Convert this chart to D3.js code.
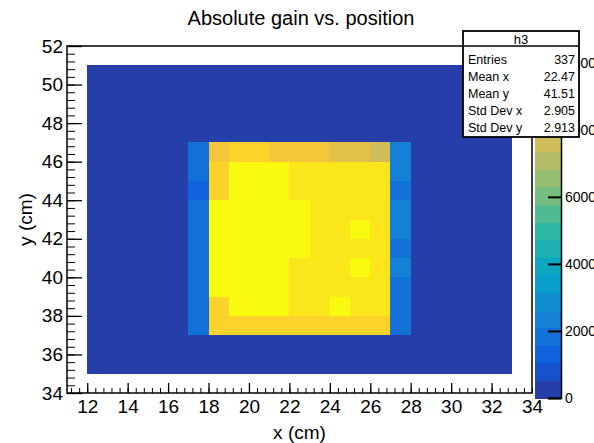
<!DOCTYPE html>
<html>
  <head>
    <meta charset="utf-8" />
    <title>Absolute gain vs. position</title>
    <script src="https://cdn.jsdelivr.net/npm/d3@7"></script>
    <style>
      html, body {
        margin: 0;
        padding: 0;
        background: white;
      }
      svg text {
        font-family: "Liberation Sans", Arial, Helvetica, sans-serif;
      }
      .axis path { stroke: black; }
      .axis line { stroke: black; }
      .cells rect { shape-rendering: crispEdges; }
    </style>
  </head>
  <body>
    <script>
      var W = 594, H = 443;

      // histogram h3 : bins of 1 cm
      var xRange = [12, 33];
      var yRange = [35, 51];
      var background = 300;

      // bins of the lit square, low edges
      var spotX = [17, 18, 19, 20, 21, 22, 23, 24, 25, 26, 27];
      var spotY = [46, 45, 44, 43, 42, 41, 40, 39, 38, 37];
      var spotZ = [
        [1850, 8900, 9200, 9200, 8800, 8800, 8800, 8100, 8100, 7600, 2350],
        [1850, 9300, 10200, 10200, 10200, 9700, 9700, 9700, 9700, 9700, 2350],
        [1300, 9300, 10200, 10500, 10200, 9700, 9700, 9700, 9700, 9700, 1850],
        [1850, 10200, 10200, 10200, 10200, 10200, 9700, 9700, 9700, 9700, 2350],
        [1850, 10200, 10200, 10200, 10200, 10200, 9700, 9700, 10200, 9700, 2350],
        [1850, 10200, 10200, 10200, 10200, 10200, 9700, 9700, 9700, 9700, 1850],
        [1850, 10200, 10200, 10200, 10200, 9700, 9700, 9700, 10200, 9700, 2350],
        [1850, 10200, 10200, 10200, 10200, 9700, 9700, 9700, 9700, 9700, 1850],
        [1850, 9300, 10200, 10200, 10200, 9700, 9700, 10200, 9700, 9700, 1850],
        [1850, 9200, 9200, 9200, 9200, 9200, 9200, 9200, 9200, 9200, 1850]
      ];

      var xTicks = [12, 14, 16, 18, 20, 22, 24, 26, 28, 30, 32, 34];
      var yTicks = [34, 36, 38, 40, 42, 44, 46, 48, 50, 52];
      var zTicks = [0, 2000, 4000, 6000, 8000, 10000];
      var statNames = ["Entries", "Mean x", "Mean y", "Std Dev x", "Std Dev y"];
      var statValues = ["337", "22.47", "41.51", "2.905", "2.913"];

      // kBird palette
      var birdStops = [0, 0.125, 0.25, 0.375, 0.5, 0.625, 0.75, 0.875, 1];
      var birdR = [0.2082, 0.0592, 0.0780, 0.0232, 0.1802, 0.5301, 0.8186, 0.9956, 0.9764];
      var birdG = [0.1664, 0.3599, 0.5041, 0.6419, 0.7178, 0.7492, 0.7328, 0.7862, 0.9832];
      var birdB = [0.5293, 0.8684, 0.8385, 0.7914, 0.6425, 0.4662, 0.3499, 0.1968, 0.0539];
      var bird = d3.scaleLinear()
        .domain(birdStops)
        .range(birdStops.map(function (s, i) {
          return d3.rgb(birdR[i] * 255, birdG[i] * 255, birdB[i] * 255);
        }))
        .interpolate(d3.interpolateRgb);

      var nLevels = 20;

      // build the bin table
      var cells = [];
      for (var bx = xRange[0]; bx < xRange[1]; bx++) {
        for (var by = yRange[0]; by < yRange[1]; by++) {
          cells.push({x: bx, y: by, z: background});
        }
      }
      spotY.forEach(function (yy, r) {
        spotX.forEach(function (xx, c) {
          var cell = cells.find(function (d) { return d.x === xx && d.y === yy; });
          cell.z = spotZ[r][c];
        });
      });
      var zMax = d3.max(cells, function (d) { return d.z; });

      function levelColor(l) {
        return bird(Math.min(1, (l + 0.99) / nLevels));
      }
      function zColor(z) {
        var l = Math.min(nLevels - 1, Math.floor(z / zMax * nLevels));
        return levelColor(l);
      }

      var frame = {left: 67, right: 532, top: 46, bottom: 393};

      var x = d3.scaleLinear().domain([11, 34]).range([frame.left, frame.right]);
      var y = d3.scaleLinear().domain([34, 52]).range([frame.bottom, frame.top]);
      var z = d3.scaleLinear().domain([0, zMax]).range([398, frame.top]);

      var svg = d3.select("body")
        .append("svg")
        .attr("width", W)
        .attr("height", H);

      svg.append("g")
        .attr("class", "cells")
        .selectAll("rect")
        .data(cells)
        .enter()
        .append("rect")
        .attr("x", function (d) { return Math.round(x(d.x)); })
        .attr("y", function (d) { return Math.round(y(d.y + 1)); })
        .attr("width", function (d) { return Math.round(x(d.x + 1)) - Math.round(x(d.x)); })
        .attr("height", function (d) { return Math.round(y(d.y)) - Math.round(y(d.y + 1)); })
        .attr("fill", function (d) { return zColor(d.z); });

      // frame
      svg.append("rect")
        .attr("x", frame.left)
        .attr("y", frame.top)
        .attr("width", frame.right - frame.left)
        .attr("height", frame.bottom - frame.top)
        .attr("fill", "none")
        .attr("stroke", "black")
        .attr("stroke-width", 1.5);

      // x axis
      var xMinor = d3.range(11.2, 34.01, 0.4);
      svg.append("g")
        .attr("class", "axis")
        .attr("transform", "translate(0," + frame.bottom + ")")
        .call(d3.axisBottom(x).tickValues(xMinor).tickSize(-5).tickFormat(""))
        .select(".domain").remove();
      var xAxis = svg.append("g")
        .attr("class", "axis")
        .attr("transform", "translate(0," + frame.bottom + ")")
        .call(d3.axisBottom(x).tickValues(xTicks).tickSize(-10).tickPadding(7)
          .tickFormat(d3.format("d")));
      xAxis.select(".domain").remove();
      xAxis.selectAll("line").attr("stroke-width", 1.3);
      xAxis.selectAll("text").attr("font-size", 19).attr("fill", "black");
      xAxis.selectAll(".tick").filter(function (d) { return d === 34; }).select("line").remove();

      // y axis
      var yMinor = d3.range(34.4, 52.01, 0.4);
      svg.append("g")
        .attr("class", "axis")
        .attr("transform", "translate(" + frame.left + ",0)")
        .call(d3.axisLeft(y).tickValues(yMinor).tickSize(-8).tickFormat(""))
        .select(".domain").remove();
      var yAxis = svg.append("g")
        .attr("class", "axis")
        .attr("transform", "translate(" + frame.left + ",0)")
        .call(d3.axisLeft(y).tickValues(yTicks).tickSize(-15).tickPadding(4)
          .tickFormat(d3.format("d")));
      yAxis.select(".domain").remove();
      yAxis.selectAll("line").attr("stroke-width", 1.3);
      yAxis.selectAll("text").attr("font-size", 19).attr("fill", "black");

      // palette
      var pal = {left: 535, right: 561};
      var bands = d3.range(nLevels);
      svg.append("g")
        .attr("class", "cells")
        .selectAll("rect")
        .data(bands)
        .enter()
        .append("rect")
        .attr("x", pal.left)
        .attr("y", function (l) { return z(zMax * (l + 1) / nLevels); })
        .attr("width", pal.right - pal.left)
        .attr("height", function (l) { return z(zMax * l / nLevels) - z(zMax * (l + 1) / nLevels) + 0.5; })
        .attr("fill", levelColor);

      var zAxis = svg.append("g")
        .attr("class", "axis")
        .attr("transform", "translate(" + pal.right + ",0)")
        .call(d3.axisRight(z).tickValues(zTicks).tickSize(-13).tickPadding(4)
          .tickFormat(d3.format("d")));
      zAxis.select(".domain").attr("stroke-width", 1.5);
      zAxis.selectAll("line").attr("stroke-width", 2);
      zAxis.selectAll("text").attr("font-size", 14).attr("fill", "black");

      // titles
      svg.append("text")
        .attr("x", 301)
        .attr("y", 25)
        .attr("text-anchor", "middle")
        .attr("font-size", 20)
        .text("Absolute gain vs. position");

      svg.append("text")
        .attr("x", (frame.left + frame.right) / 2)
        .attr("y", 439)
        .attr("text-anchor", "middle")
        .attr("font-size", 19)
        .text("x (cm)");

      svg.append("text")
        .attr("transform", "translate(32," + (frame.top + frame.bottom) / 2 + ") rotate(-90)")
        .attr("text-anchor", "middle")
        .attr("font-size", 19)
        .text("y (cm)");

      // stats box
      var box = {left: 463, right: 579, top: 31, bottom: 137};
      var stats = svg.append("g");
      stats.append("rect")
        .attr("x", box.left)
        .attr("y", box.top)
        .attr("width", box.right - box.left)
        .attr("height", box.bottom - box.top)
        .attr("fill", "white")
        .attr("stroke", "black")
        .attr("stroke-width", 1.8);
      stats.append("line")
        .attr("x1", box.left)
        .attr("x2", box.right)
        .attr("y1", 46)
        .attr("y2", 46)
        .attr("stroke", "black")
        .attr("stroke-width", 1.5);
      stats.append("text")
        .attr("x", (box.left + box.right) / 2)
        .attr("y", 44)
        .attr("text-anchor", "middle")
        .attr("font-size", 13)
        .text("h3");
      statNames.forEach(function (name, i) {
        var yy = 64 + i * 17;
        stats.append("text")
          .attr("x", box.left + 5)
          .attr("y", yy)
          .attr("font-size", 12.5)
          .text(name);
        stats.append("text")
          .attr("x", box.right - 4)
          .attr("y", yy)
          .attr("text-anchor", "end")
          .attr("font-size", 12.5)
          .text(statValues[i]);
      });
    </script>
  </body>
</html>
